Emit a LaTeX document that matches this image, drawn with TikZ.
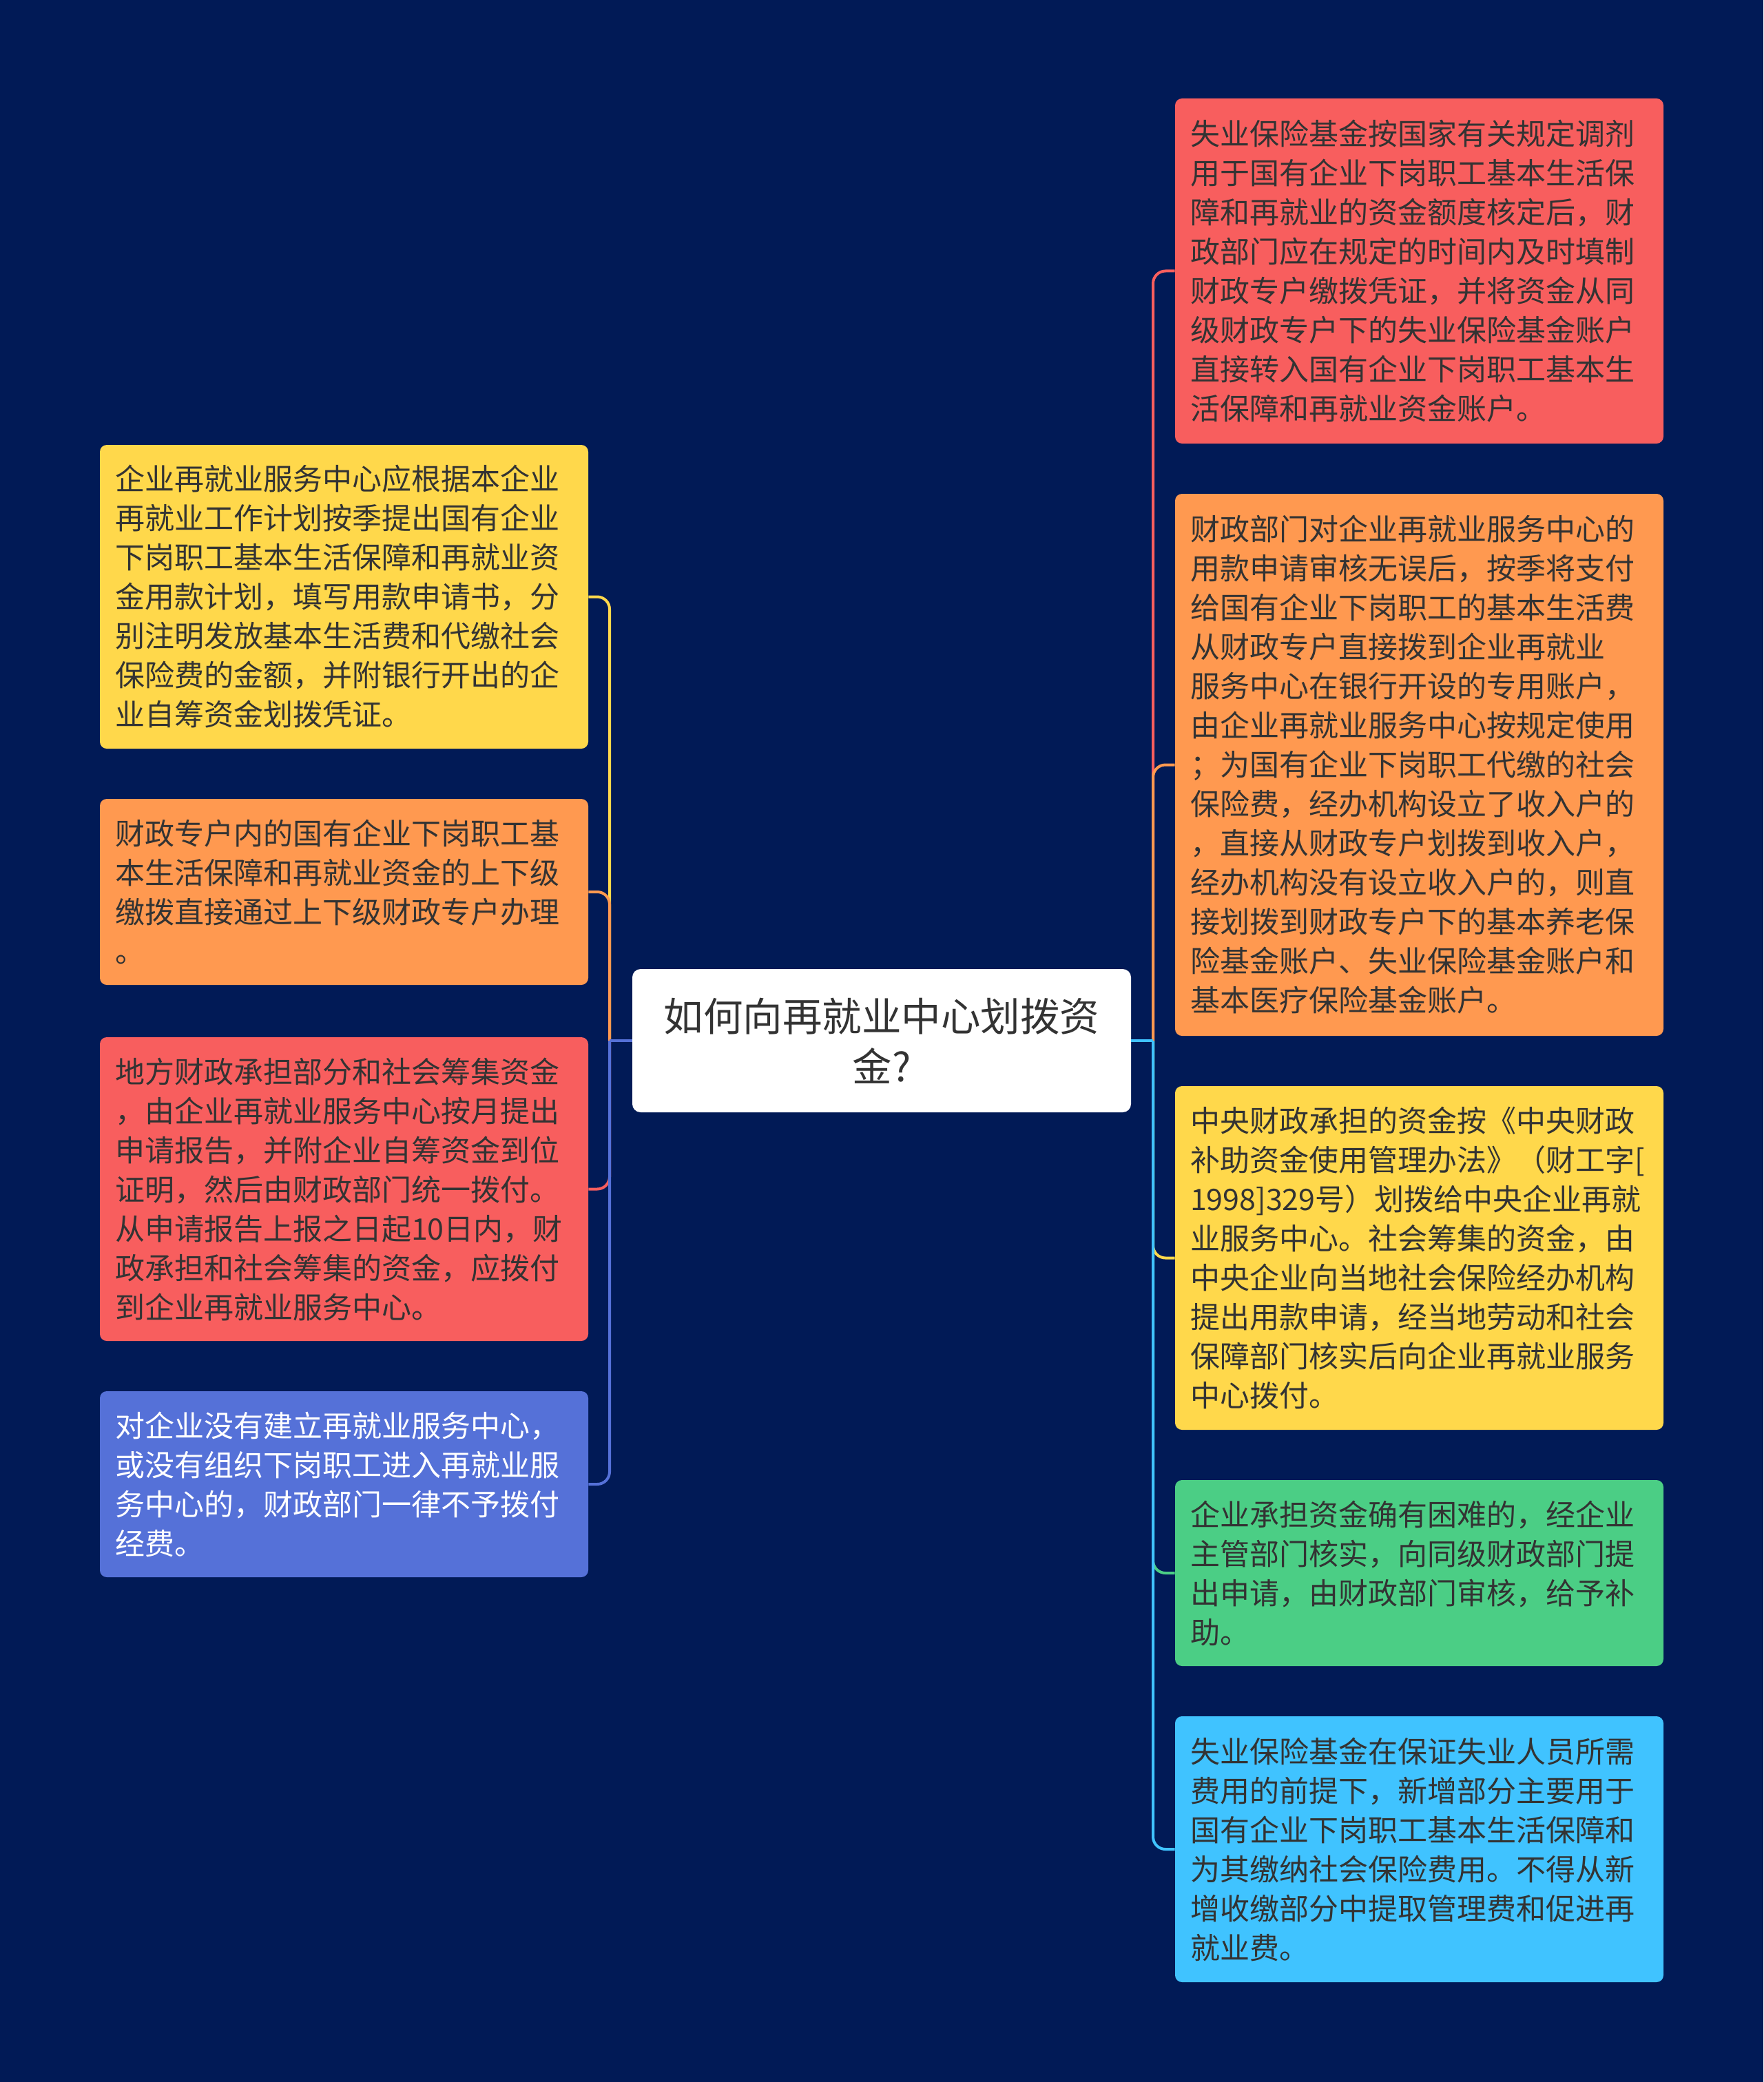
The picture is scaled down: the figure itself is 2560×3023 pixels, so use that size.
\documentclass[tikz,border=0pt]{standalone}
\usepackage{fontspec}
\setmainfont{Noto Sans CJK SC}
\definecolor{bgc}{HTML}{011A56}
\definecolor{cyel}{HTML}{FFD84B}
\definecolor{cora}{HTML}{FF9950}
\definecolor{cred}{HTML}{F85E5E}
\definecolor{cblu}{HTML}{5571D8}
\definecolor{cgrn}{HTML}{4BCE85}
\definecolor{ccya}{HTML}{40C3FF}
\definecolor{ctxt}{HTML}{333333}
\begin{document}
\begin{tikzpicture}[x=0.5pt,y=-0.5pt,
  leaf/.style={rounded corners=5pt,minimum width=354.5pt,text width=332.5pt,inner xsep=11pt,inner ysep=0pt,align=left,text=ctxt,font=\fontsize{21.5pt}{28.5pt}\selectfont},
  root/.style={fill=white,rounded corners=6pt,minimum width=362pt,minimum height=104pt,text width=340pt,align=center,text=ctxt,inner sep=0pt,font=\fontsize{28.75pt}{36.5pt}\selectfont},
  link/.style={line width=2pt,rounded corners=9pt}]
\useasboundingbox (0,0) rectangle (2560,3023);
\fill[bgc] (0,0) rectangle (2560,3023);

\node[root] (c) at (1280,1511) {如何向再就业中心划拨资\\金?};

\node[leaf,fill=cyel,minimum height=220.5pt] (l1) at (499.5,866.5) {企业再就业服务中心应根据本企业\\再就业工作计划按季提出国有企业\\下岗职工基本生活保障和再就业资\\金用款计划，填写用款申请书，分\\别注明发放基本生活费和代缴社会\\保险费的金额，并附银行开出的企\\业自筹资金划拨凭证。};
\node[leaf,fill=cora,minimum height=135pt] (l2) at (499.5,1295) {财政专户内的国有企业下岗职工基\\本生活保障和再就业资金的上下级\\缴拨直接通过上下级财政专户办理\\。};
\node[leaf,fill=cred,minimum height=220.5pt] (l3) at (499.5,1726.5) {地方财政承担部分和社会筹集资金\\，由企业再就业服务中心按月提出\\申请报告，并附企业自筹资金到位\\证明，然后由财政部门统一拨付。\\从申请报告上报之日起10日内，财\\政承担和社会筹集的资金，应拨付\\到企业再就业服务中心。};
\node[leaf,fill=cblu,text=white,minimum height=135pt] (l4) at (499.5,2155) {对企业没有建立再就业服务中心，\\或没有组织下岗职工进入再就业服\\务中心的，财政部门一律不予拨付\\经费。};

\node[leaf,fill=cred,minimum height=250.5pt] (r1) at (2060.5,393.5) {失业保险基金按国家有关规定调剂\\用于国有企业下岗职工基本生活保\\障和再就业的资金额度核定后，财\\政部门应在规定的时间内及时填制\\财政专户缴拨凭证，并将资金从同\\级财政专户下的失业保险基金账户\\直接转入国有企业下岗职工基本生\\活保障和再就业资金账户。};
\node[leaf,fill=cora,minimum height=393.5pt] (r2) at (2060.5,1110.5) {财政部门对企业再就业服务中心的\\用款申请审核无误后，按季将支付\\给国有企业下岗职工的基本生活费\\从财政专户直接拨到企业再就业\\服务中心在银行开设的专用账户，\\由企业再就业服务中心按规定使用\\；为国有企业下岗职工代缴的社会\\保险费，经办机构设立了收入户的\\，直接从财政专户划拨到收入户，\\经办机构没有设立收入户的，则直\\接划拨到财政专户下的基本养老保\\险基金账户、失业保险基金账户和\\基本医疗保险基金账户。};
\node[leaf,fill=cyel,minimum height=249.5pt] (r3) at (2060.5,1826.5) {中央财政承担的资金按《中央财政\\补助资金使用管理办法》（财工字[\\1998]329号）划拨给中央企业再就\\业服务中心。社会筹集的资金，由\\中央企业向当地社会保险经办机构\\提出用款申请，经当地劳动和社会\\保障部门核实后向企业再就业服务\\中心拨付。};
\node[leaf,fill=cgrn,minimum height=135pt] (r4) at (2060.5,2284) {企业承担资金确有困难的，经企业\\主管部门核实，向同级财政部门提\\出申请，由财政部门审核，给予补\\助。};
\node[leaf,fill=ccya,minimum height=193pt] (r5) at (2060.5,2685) {失业保险基金在保证失业人员所需\\费用的前提下，新增部分主要用于\\国有企业下岗职工基本生活保障和\\为其缴纳社会保险费用。不得从新\\增收缴部分中提取管理费和促进再\\就业费。};

\coordinate (lj) at (885,1511);
\coordinate (rj) at (1674,1511);

\draw[link,cyel] (lj) |- (l1.east);
\draw[link,cora] (lj) |- (l2.east);
\draw[link,cred] (lj) |- (l3.east);
\draw[link,cblu] (lj) |- (l4.east);
\draw[line width=2pt,cblu] (c.west) -- (lj);

\draw[link,cred] (rj) |- (r1.west);
\draw[link,cora] (rj) |- (r2.west);
\draw[link,cyel] (rj) |- (r3.west);
\draw[link,cgrn] (rj) |- (r4.west);
\draw[link,ccya] (rj) |- (r5.west);
\draw[line width=2pt,ccya] (c.east) -- (rj);
\end{tikzpicture}
\end{document}
